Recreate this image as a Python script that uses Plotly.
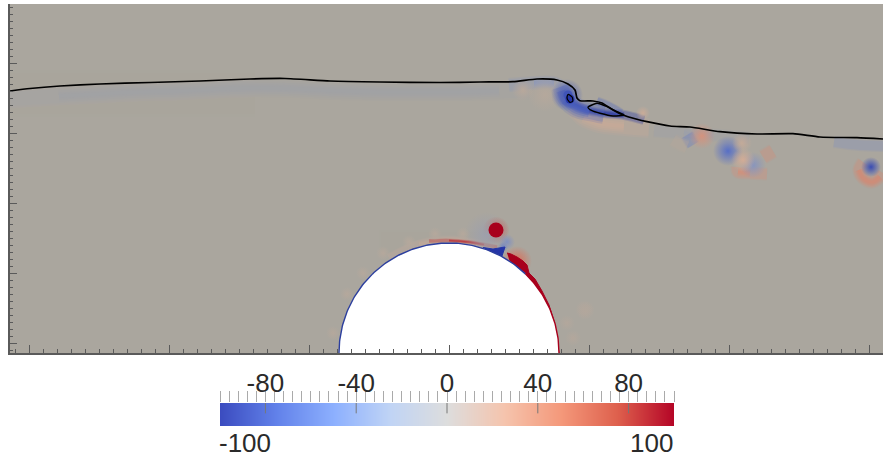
import numpy as np
import plotly.graph_objects as go
from plotly.colors import sample_colorscale

# Black interface line (data units of the plot axes)
INTERFACE_X = [-439,-419,-389,-349,-299,-249,-199,-164,-119,-69,-9,31,64,88,108,119,126,128,131,144,153,164,174,187,198,221,241,271,308,344,371,408,434]
INTERFACE_Y = [262,264.5,267,269,270.5,272,274,274.5,272,271,270.5,271,271.3,274,273,269,263,255,252.3,252,250,243,238,234,231.3,227,226,221.3,219,219.3,216,215.3,214]
BUBBLE_X = [139,148,158,168,175,164,151,143,139]
BUBBLE_Y = [245.7,249.7,246.3,241.3,238,237,239.7,242.3,245.7]
LOOP_X = [119.3,123.3,123.7,121,118.3,118.3,119.3]
LOOP_Y = [258.7,255.7,251.7,250.7,254,257.3,258.7]

# Soft round vorticity patches: position, value, diameter
SOFT_X = [47, 38, 58, 54, 279, 253, 304, 294, 293, 422, 136, 194, 96, 74, 118, 68, -116,-102,-86,-66,-40,-14,14,118,124,136]
SOFT_Y = [123, 118, 111, 106, 202, 217, 188, 193, 210, 186, 43, 240, 258, 263, 258, 92, 20,59,80,100,111,119,119,30,15,43]
SOFT_VALUE = [70, -12, -34, -45, -62, 40, -30, 26, 16, -85, 5, 20, 7, 9, -75, 60, 7,7,7,7,7,7,7,6,6,5]
SOFT_SIZE = [27, 46, 16, 10, 30, 26, 26, 24, 20, 20, 20, 14, 34, 22, 32, 30, 14,14,14,14,14,14,14,16,16,18]

# Elongated filaments: one list of x, one of y, one value and one width per filament
STREAK_X = [
    [-439,-390,-350,-310,-270,-230,-190,-150,-110,-70,-30,10,50,80],
    [205,235,264,300], [385,410,434],
    [125,135,150,175,200], [60,85,105,114],
    [112,117,126,138,155,175,195], [111,117,128,140,155],
    [148,160,172], [238,241,244], [224,231,238],
    [288,289,301,318], [314,319,324], [414,410,414,423,431,434],
    [-60,-30,0,20,35,48], [-20,0,20,35,48],
]
STREAK_Y = [
    [254,257,259,261,262,264,265,264,262,261,261,261,262,263],
    [222,220,218,215], [211,208,207],
    [247,236,230,227,225], [268,270,270,265],
    [262,252,248,243,240,238,233], [266,254,245,242,239],
    [252,247,240], [218,213,208], [213,209,206],
    [186,181,180,179], [196,199,202], [191,183,175,171,176,180],
    [95,109,113,111,108.5,106], [112,112.5,111,108.5,106],
]
STREAK_VALUE = [-8, -13, -34, 21, -28, -100, -70, -70, -52, 11, 42, 44, 46, 16, 85]
STREAK_WIDTH = [18, 13, 12, 20, 14, 10, 20, 9, 14, 14, 13, 15, 13, 9, 4]

# Saturated solid regions next to the cylinder
CORE_X = [47, 119, 121]
CORE_Y = [123, 258, 254]
CORE_VALUE = [100, -80, -100]
CORE_SIZE = [15, 9, 9]
WEDGE_X = [34,44,56,53,42]
WEDGE_Y = [105.5,104,106,97,100]
LUMP_X = [58,62,68,74,78,80,86,93,100,105,110,108,92,78,62]
LUMP_Y = [100,99,96,92,88,80,74,62,48,32,0,0,40,66,88]

CYLINDER_CENTER = (0, 0)
CYLINDER_RADIUS = 110

BAR_VALUES = [-100,-75,-50,-25,0,25,50,75,100]
BAR_LABELS = [-80,-40,0,40,80]
BAR_END_LABELS = [-100,100]

BAR_SCALE = [[0,"#3b4cc0"],[0.125,"#6282ea"],[0.25,"#8db0fe"],[0.375,"#c0d4f5"],[0.5,"#dddddd"],
             [0.625,"#f5c4ad"],[0.75,"#f4987a"],[0.875,"#de604d"],[1,"#b40426"]]
FIELD_SCALE = [[0,"#2535a6"],[0.2,"#5a72c8"],[0.37,"#8e9abc"],[0.5,"#aaa69e"],
               [0.63,"#d2ac96"],[0.8,"#d8705a"],[1,"#a8001c"]]
BG = "#aaa69e"
TXT = "#2a2a2a"
FONT = "Liberation Sans"

def colors(values):
    return sample_colorscale(FIELD_SCALE, [(v + 100) / 200 for v in values], colortype="rgb")

def transparent(c):
    return c.replace("rgb(", "rgba(").replace(")", ",0)")

fig = go.Figure()
LAYERS = [(1.0, 0.16, 0), (0.8, 0.22, 0), (0.6, 0.3, 1), (0.4, 0.36, 1), (0.2, 0.4, 1)]
for xs, ys, v, w in zip(STREAK_X, STREAK_Y, STREAK_VALUE, STREAK_WIDTH):
    c = colors([v])[0]
    for frac, op, trim in LAYERS:
        end = len(xs) - trim
        fig.add_trace(go.Scatter(x=xs[trim:end], y=ys[trim:end], mode="lines", opacity=op, hoverinfo="skip",
                                 line=dict(color=c, width=w * frac, shape="spline")))
soft = colors(SOFT_VALUE)
fig.add_trace(go.Scatter(x=SOFT_X, y=SOFT_Y, mode="markers", hoverinfo="skip",
    marker=dict(size=SOFT_SIZE, opacity=1, color=[transparent(c) for c in soft],
                gradient=dict(type="radial", color=soft), line=dict(width=0))))
fig.add_trace(go.Scatter(x=CORE_X, y=CORE_Y, mode="markers", hoverinfo="skip",
    marker=dict(size=CORE_SIZE, opacity=1, color=colors(CORE_VALUE), line=dict(width=0))))
for xs, ys, v in [(WEDGE_X, WEDGE_Y, -100), (LUMP_X, LUMP_Y, 100)]:
    c = colors([v])[0]
    fig.add_trace(go.Scatter(x=xs, y=ys, mode="lines", fill="toself", fillcolor=c, hoverinfo="skip",
                             line=dict(color=c, width=1)))

theta = np.radians(np.linspace(0, 180, 181))
cx = CYLINDER_CENTER[0] + CYLINDER_RADIUS * np.cos(theta)
cy = CYLINDER_CENTER[1] + CYLINDER_RADIUS * np.sin(theta)
fig.add_trace(go.Scatter(x=cx, y=cy, mode="lines", fill="toself", fillcolor="white",
                         line=dict(width=0), hoverinfo="skip"))
fig.add_trace(go.Scatter(x=cx[46:], y=cy[46:], mode="lines", line=dict(color="#2c3f9e", width=1.4), hoverinfo="skip"))
fig.add_trace(go.Scatter(x=cx[:47], y=cy[:47], mode="lines", line=dict(color="#a8001c", width=1.4), hoverinfo="skip"))

for xs, ys, w in [(INTERFACE_X, INTERFACE_Y, 1.7), (BUBBLE_X, BUBBLE_Y, 1.4), (LOOP_X, LOOP_Y, 1.2)]:
    fig.add_trace(go.Scatter(x=xs, y=ys, mode="lines", line=dict(color="black", width=w, shape="spline", smoothing=0.6), hoverinfo="skip"))

fig.add_trace(go.Heatmap(x=BAR_VALUES, y=[0, 1], z=[BAR_VALUES, BAR_VALUES], zmin=-100, zmax=100,
                         colorscale=BAR_SCALE, zsmooth="best", showscale=False, xaxis="x2", yaxis="y2", hoverinfo="skip"))

W, H = 883, 460
AX = "#5a5a5a"
fig.update_layout(
    width=W, height=H, margin=dict(l=0, r=0, t=0, b=0), showlegend=False,
    paper_bgcolor="white", plot_bgcolor=BG,
    font=dict(family=FONT, color=TXT),
    xaxis=dict(domain=[9.5 / W, 1], range=[-439.5, 434], showgrid=False, zeroline=False,
               showline=True, linecolor=AX, linewidth=1.5, ticks="inside", ticklen=8, tickcolor=AX, tickwidth=1,
               tick0=0, dtick=140, showticklabels=False,
               minor=dict(ticks="inside", ticklen=4, tickcolor=AX, tickwidth=1, tick0=0, dtick=14, showgrid=False)),
    yaxis=dict(domain=[(H - 353) / H, (H - 4) / H], range=[0, 349], showgrid=False, zeroline=False,
               showline=True, linecolor=AX, linewidth=1.5, ticks="inside", ticklen=8, tickcolor=AX, tickwidth=1,
               tick0=10, dtick=70, showticklabels=False,
               minor=dict(ticks="inside", ticklen=4, tickcolor=AX, tickwidth=1, tick0=10, dtick=7, showgrid=False)),
    xaxis2=dict(domain=[220 / W, 674 / W], range=[-100, 100], anchor="y2", side="top", showgrid=False, zeroline=False,
                ticks="outside", ticklen=11, tickcolor="#aaaaaa", tickwidth=1,
                tickmode="array", tickvals=BAR_LABELS, ticktext=[str(v) for v in BAR_LABELS],
                tickfont=dict(size=26, color=TXT, family=FONT), ticklabelstandoff=-11,
                minor=dict(ticks="outside", ticklen=11, tickcolor="#aaaaaa", tickwidth=1, tick0=0, dtick=4, showgrid=False)),
    yaxis2=dict(domain=[(H - 426) / H, (H - 403) / H], range=[0, 1], anchor="x2", showgrid=False, zeroline=False,
                showticklabels=False, ticks=""),
    shapes=[dict(type="line", xref="x2", yref="y2", x0=v, x1=v, y0=0.55, y1=1, line=dict(color="#777777", width=1))
            for v in BAR_LABELS],
    annotations=[dict(xref="x2", yref="y2", x=v, y=0, text=str(v), showarrow=False, yanchor="top", yshift=0,
                      xanchor="left" if v < 0 else "right", font=dict(size=26, color=TXT, family=FONT), xshift=-3 if v < 0 else 1)
                 for v in BAR_END_LABELS],
)
fig.write_html("out.html", config={"displayModeBar": False},
               post_script="document.body.style.margin='0';document.documentElement.style.overflow='hidden';")
